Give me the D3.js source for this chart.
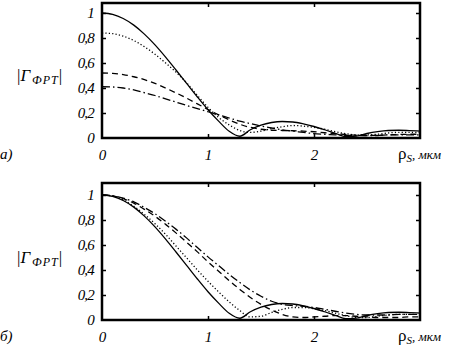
<!DOCTYPE html>
<html><head><meta charset="utf-8">
<script src="https://cdn.jsdelivr.net/npm/d3@7"></script>
<style>
html,body{margin:0;padding:0;background:#fff;}
</style></head>
<body><svg id="c" width="457" height="347"></svg>
<script>
const rho = [0,0.1,0.2,0.3,0.4,0.5,0.6,0.7,0.8,0.9,1.0,1.1,1.2,1.3,1.4,1.5,1.6,1.7,1.8,1.9,2.0,2.1,2.2,2.3,2.4,2.5,2.6,2.7,2.8,2.9,3.0];

// panel a)
const aSolid   = [1,0.989,0.956,0.903,0.831,0.745,0.647,0.542,0.435,0.328,0.226,0.135,0.054,0.014,0.066,0.103,0.124,0.132,0.128,0.113,0.092,0.066,0.038,0.010,0.015,0.036,0.051,0.060,0.062,0.059,0.055];
const aDotted  = [0.84,0.835,0.815,0.78,0.73,0.67,0.60,0.525,0.44,0.34,0.245,0.165,0.105,0.06,0.045,0.055,0.075,0.09,0.1,0.095,0.085,0.07,0.05,0.035,0.025,0.025,0.03,0.04,0.045,0.045,0.045];
const aDashed  = [0.52,0.517,0.507,0.49,0.467,0.437,0.40,0.36,0.318,0.273,0.228,0.185,0.145,0.11,0.085,0.07,0.062,0.06,0.058,0.055,0.05,0.042,0.035,0.028,0.022,0.02,0.022,0.025,0.028,0.03,0.03];
const aDashDot = [0.41,0.408,0.40,0.385,0.362,0.34,0.313,0.287,0.26,0.235,0.21,0.185,0.16,0.135,0.115,0.095,0.08,0.065,0.055,0.045,0.035,0.03,0.025,0.02,0.02,0.02,0.02,0.025,0.025,0.025,0.025];

// panel б)
const bSolid   = [1,0.989,0.956,0.903,0.831,0.745,0.647,0.542,0.435,0.328,0.226,0.135,0.054,0.014,0.066,0.103,0.124,0.132,0.128,0.113,0.092,0.066,0.038,0.010,0.015,0.036,0.051,0.060,0.062,0.059,0.055];
const bDotted  = [1,0.99,0.96,0.91,0.845,0.77,0.685,0.59,0.495,0.40,0.31,0.225,0.145,0.075,0.025,0.03,0.06,0.085,0.1,0.1,0.09,0.075,0.055,0.035,0.02,0.02,0.03,0.04,0.045,0.045,0.045];
const bDashed  = [1,0.993,0.97,0.935,0.885,0.83,0.765,0.695,0.62,0.545,0.465,0.39,0.315,0.245,0.18,0.125,0.08,0.045,0.025,0.02,0.025,0.03,0.035,0.035,0.03,0.025,0.02,0.02,0.02,0.025,0.025];
const bDashDot = [1,0.994,0.975,0.945,0.90,0.85,0.79,0.725,0.655,0.58,0.505,0.435,0.365,0.30,0.24,0.19,0.15,0.125,0.115,0.11,0.1,0.085,0.07,0.055,0.045,0.04,0.04,0.04,0.045,0.045,0.045];

const yTicks = [0,0.2,0.4,0.6,0.8,1];
const yTickLabels = ["0","0,2","0,4","0,6","0,8","1"];
const xTicks = [0,1,2];
const xTickLabels = ["0","1","2"];
const panelLabels = ["а)","б)"];

const FONT = "'Liberation Serif', 'Times New Roman', Times, serif";
const styles = [
  {dash:null},
  {dash:"1.2,2.2"},
  {dash:"6,4"},
  {dash:"8,3,1.5,3"}
];

const svg = d3.select("#c");
const x = d3.scaleLinear().domain([0,3]).range([102,420]);

function styleText(sel, size){
  sel.attr("font-family",null).attr("font-size",null)
     .style("font-family",FONT).style("font-style","italic").style("font-size",size).attr("fill","#000");
}

function panel(series, y0, yTop, label){
  const y = d3.scaleLinear().domain([0,(y0-yTop)/125]).range([y0,yTop]);
  const g = svg.append("g");
  const line = d3.line().x((d,i)=>x(rho[i])).y(d=>y(d)).curve(d3.curveMonotoneX);
  series.forEach((s,k)=>{
    g.append("path").attr("d",line(s)).attr("fill","none").attr("stroke","#000")
     .attr("stroke-width",1.3).attr("stroke-dasharray",styles[k].dash);
  });
  const tl = g.append("g").attr("transform",`translate(${x(0)},0)`).call(d3.axisRight(y).tickValues(yTicks.slice(1)).tickSize(4).tickFormat(""));
  const tr = g.append("g").attr("transform",`translate(${x(3)},0)`).call(d3.axisLeft(y).tickValues(yTicks.slice(1)).tickSize(4).tickFormat(""));
  const tt = g.append("g").attr("transform",`translate(0,${yTop})`).call(d3.axisBottom(x).tickValues([1,2]).tickSize(4).tickFormat(""));
  const tb = g.append("g").attr("transform",`translate(0,${y0})`).call(d3.axisTop(x).tickValues([1,2]).tickSize(4).tickFormat(""));
  [tl,tr,tt,tb].forEach(a=>{a.select(".domain").remove(); a.selectAll("line").attr("stroke","#000").attr("stroke-width",1.5);});
  g.append("rect").attr("x",x(0)).attr("y",yTop).attr("width",x(3)-x(0)).attr("height",y0-yTop)
   .attr("fill","none").attr("stroke","#000").attr("stroke-width",2.5);
  const ly = g.append("g").attr("transform",`translate(${x(0)},0)`)
    .call(d3.axisLeft(y).tickValues(yTicks).tickSize(0).tickPadding(8).tickFormat((d,i)=>yTickLabels[i]));
  ly.select(".domain").remove();
  ly.attr("font-family",null).attr("font-size",null);
  styleText(ly.selectAll("text"),"15px");
  ly.selectAll("text").attr("letter-spacing","-0.8");
  const lx = g.append("g").attr("transform",`translate(0,${y0})`)
    .call(d3.axisBottom(x).tickValues(xTicks).tickSize(0).tickPadding(11).tickFormat((d,i)=>xTickLabels[i]));
  lx.select(".domain").remove();
  lx.attr("font-family",null).attr("font-size",null);
  styleText(lx.selectAll("text"),"15px");
  // y title
  const yc = y(0.5)+5;
  const t = g.append("text").attr("x",17).attr("y",yc);
  styleText(t,"17px");
  t.append("tspan").text("|").style("font-style","normal");
  t.append("tspan").text("Γ");
  t.append("tspan").text("ФРТ").style("font-size","12px").attr("dy",3).attr("dx",2).attr("letter-spacing","1");
  t.append("tspan").text("|").style("font-style","normal").attr("dy",-3);
  // x title
  const xt = g.append("text").attr("x",398).attr("y",y0+21);
  styleText(xt,"17px");
  xt.append("tspan").text("ρ").style("font-style","normal");
  xt.append("tspan").text("S").style("font-size","11px").attr("dy",3);
  xt.append("tspan").text(", мкм").style("font-size","13px").attr("dy",-3);
  const pl = g.append("text").attr("x",0).attr("y",y0+21).text(label);
  styleText(pl,"15px");
}

panel([aSolid,aDotted,aDashed,aDashDot], 138, 3, panelLabels[0]);
panel([bSolid,bDotted,bDashed,bDashDot], 320, 183, panelLabels[1]);
</script></body></html>
